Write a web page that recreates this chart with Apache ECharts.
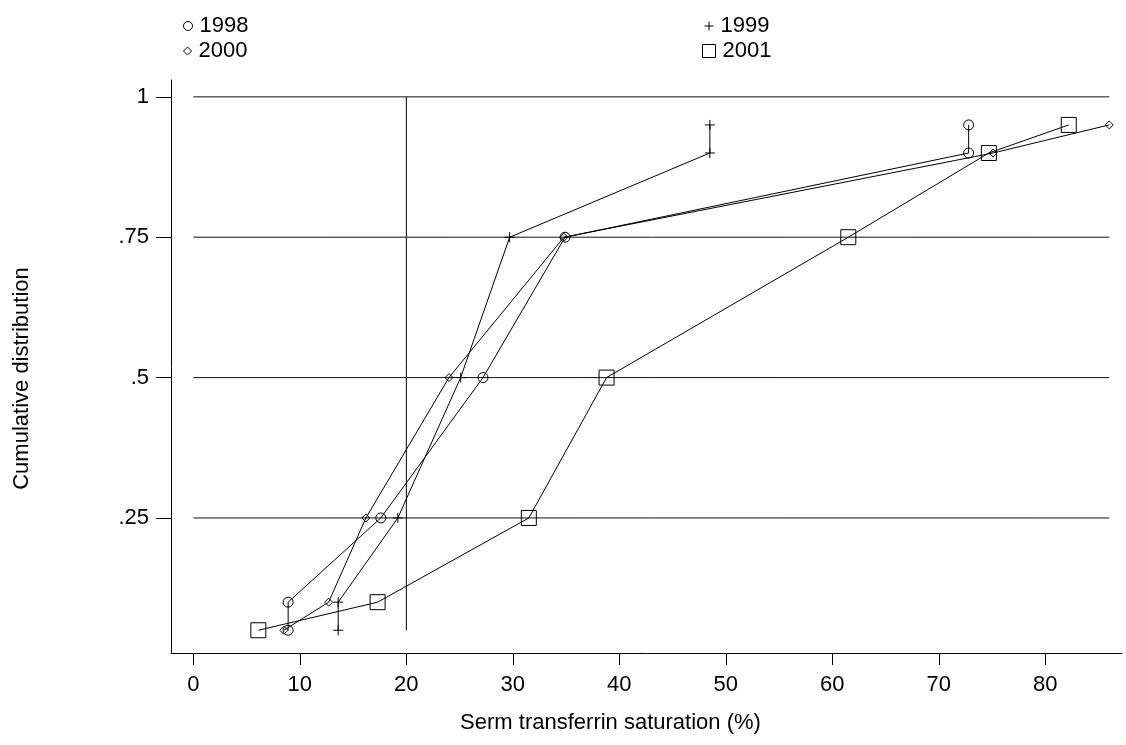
<!DOCTYPE html>
<html>
<head>
<meta charset="utf-8">
<script src="https://cdn.jsdelivr.net/npm/echarts@6/dist/echarts.min.js"></script>
<style>
  html, body { margin: 0; padding: 0; background: #fff; }
  #chart { width: 1126px; height: 745px; }
</style>
</head>
<body>
<div id="chart"></div>
<script>
// cumulative levels shared by every year
const cumLevels = [0.05, 0.1, 0.25, 0.5, 0.75, 0.9, 0.95];

// saturation (%) at each cumulative level
const sat1998 = [8.9, 8.9, 17.6, 27.2, 34.9, 72.8, 72.8];
const sat1999 = [13.6, 13.6, 19.2, 25.1, 29.7, 48.5, 48.5];
const sat2000 = [8.5, 12.7, 16.2, 24.0, 34.8, 75.1, 86.0];
const sat2001 = [6.1, 17.3, 31.5, 38.8, 61.5, 74.7, 82.2];

const xTicks = [0, 10, 20, 30, 40, 50, 60, 70, 80];
const yTicks = [0.25, 0.5, 0.75, 1];
const yTickLabels = [".25", ".5", ".75", "1"];

// horizontal reference lines and the vertical one at 20%
const hLineSpan = [0, 86.0];
const vLineX = 20;
const vLineSpan = [0.05, 1];

const font = "Liberation Sans, Arial, sans-serif";
const fsize = 22;
const plusPath = "path://M5,0L5,10M0,5L10,5";

function pairs(xs) {
  return xs.map((x, i) => [x, cumLevels[i]]);
}

const markerStyle = {
  color: "transparent",
  borderColor: "#000",
  borderWidth: 1,
};

const years = [
  { name: "1998", data: sat1998, symbol: "circle", size: 10 },
  { name: "1999", data: sat1999, symbol: plusPath, size: 10 },
  { name: "2000", data: sat2000, symbol: "diamond", size: 8 },
  { name: "2001", data: sat2001, symbol: "rect", size: 15 },
];

const series = [];
yTicks.forEach((v) => {
  series.push({
    type: "line",
    silent: true,
    symbol: "none",
    data: hLineSpan.map((x) => [x, v]),
    lineStyle: { color: "#111", width: 1 },
  });
});
series.push({
  type: "line",
  silent: true,
  symbol: "none",
  data: vLineSpan.map((y) => [vLineX, y]),
  lineStyle: { color: "#000", width: 1 },
});
years.forEach((yr) => {
  series.push({
    name: yr.name,
    type: "line",
    data: pairs(yr.data),
    symbol: yr.symbol,
    symbolSize: yr.size,
    showAllSymbol: true,
    itemStyle: markerStyle,
    lineStyle: { color: "#000", width: 1 },
    emphasis: { disabled: true },
  });
});

// one legend block per year so each sits where the picture has it
const legendPos = {
  "1998": { left: 178, top: 10, icon: "circle", w: 9 },
  "2000": { left: 178, top: 35, icon: "diamond", w: 8 },
  "1999": { left: 699, top: 10, icon: plusPath, w: 9 },
  "2001": { left: 697, top: 35, icon: "rect", w: 13 },
};
const legends = Object.keys(legendPos).map((k) => {
  const p = legendPos[k];
  return {
    data: [{ name: k, icon: p.icon }],
    left: p.left,
    top: p.top,
    itemWidth: p.w,
    itemHeight: p.w,
    selectedMode: false,
    itemStyle: { color: "transparent", borderColor: "#000", borderWidth: 1 },
    textStyle: { fontFamily: font, fontSize: fsize, color: "#000", padding: [0, 0, 0, 2] },
  };
});

const option = {
  animation: false,
  backgroundColor: "#fff",
  legend: legends,
  grid: { left: 171, right: 4, top: 80, bottom: 92, containLabel: false },
  xAxis: {
    type: "value",
    min: -2.1,
    max: 87.2,
    name: "Serm transferrin saturation (%)",
    nameLocation: "middle",
    nameGap: 59,
    nameTextStyle: { fontFamily: font, fontSize: fsize, color: "#000", padding: [0, 72, 0, 0] },
    axisLine: { onZero: false, lineStyle: { color: "#000", width: 1 } },
    axisTick: { customValues: xTicks, length: 12, lineStyle: { color: "#000" } },
    axisLabel: {
      customValues: xTicks,
      margin: 21,
      fontFamily: font,
      fontSize: fsize,
      color: "#000",
    },
    splitLine: { show: false },
  },
  yAxis: {
    type: "value",
    min: 0.0095,
    max: 1.03,
    name: "Cumulative distribution",
    nameLocation: "middle",
    nameGap: 138,
    nameTextStyle: { fontFamily: font, fontSize: fsize, color: "#000", padding: [0, 24, 0, 0] },
    axisLine: { show: true, onZero: false, lineStyle: { color: "#000", width: 1 } },
    axisTick: { show: true, customValues: yTicks, length: 15, lineStyle: { color: "#000" } },
    axisLabel: {
      customValues: yTicks,
      margin: 22,
      fontFamily: font,
      fontSize: fsize,
      color: "#000",
      formatter: (v) => {
        const i = yTicks.findIndex((t) => Math.abs(t - v) < 1e-6);
        return i >= 0 ? yTickLabels[i] : "";
      },
    },
    splitLine: { show: false },
  },
  series: series,
};

const myChart = echarts.init(document.getElementById("chart"));
myChart.setOption(option);
</script>
</body>
</html>
